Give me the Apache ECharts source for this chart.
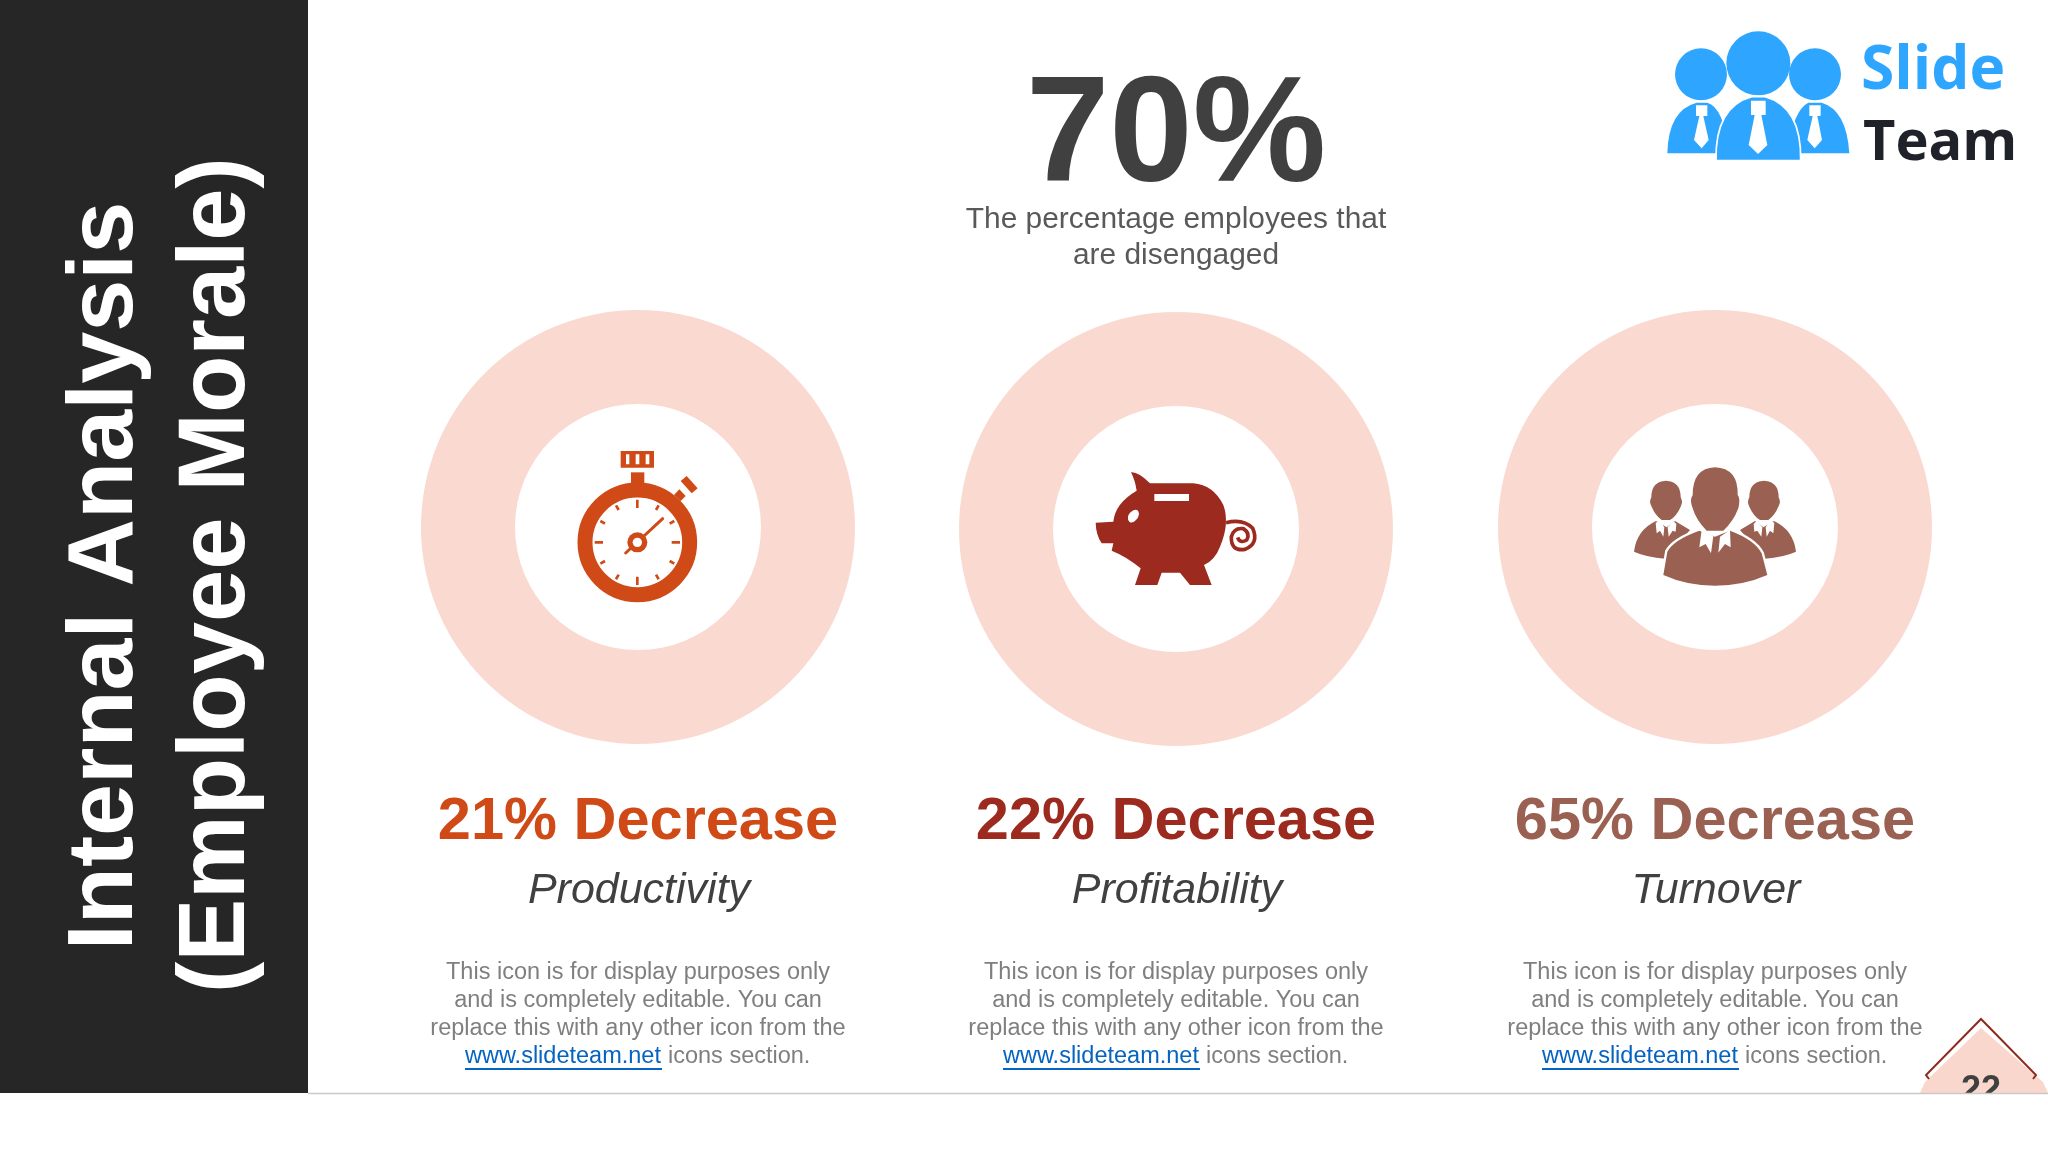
<!DOCTYPE html>
<html>
<head>
<meta charset="utf-8">
<style>
  html, body { margin: 0; padding: 0; background: #fff; }
  #main { width: 2048px; height: 1152px; }
</style>
<script src="https://cdn.jsdelivr.net/npm/echarts@6/dist/echarts.min.js"></script>
</head>
<body>
<div id="main"></div>
<script>
var categories = ['Productivity', 'Profitability', 'Turnover'];
var decreases = [21, 22, 65];
var headlineColors = ['#d04a18', '#9c2a1e', '#9a6152'];
var headlinePercent = 70;
var subtitleLines = ['The percentage employees that', 'are disengaged'];
var titleLines = ['Internal Analysis', '(Employee Morale)'];
var bodyLines = ['This icon is for display purposes only', 'and is completely editable. You can', 'replace this with any other icon from the'];
var pageNumber = '22';

var centersX = [638, 1176, 1715];
var centersY = [527, 529, 527];
var FONT = '"Liberation Sans", Arial, sans-serif';
var LOGO_FONT = '"Open Sans", "Noto Sans", sans-serif';

function txt(text, x, y, font, fill, extra) {
    var el = {
        type: 'text', x: x, y: y, silent: true,
        style: { text: text, font: font, fill: fill, align: 'center', verticalAlign: 'middle' }
    };
    return Object.assign(el, extra || {});
}
// graphic component has no plain path type, so each traced shape gets registered
var shapeCount = 0;
function icon(pathData, ox, oy, fill, extra) {
    var name = 'iconShape' + (shapeCount++);
    echarts.graphic.registerShape(name, echarts.graphic.extendPath(pathData, {}));
    var el = {
        type: name, x: ox, y: oy, scaleX: 1 / 3, scaleY: 1 / 3, silent: true,
        style: { fill: fill }
    };
    if (extra) Object.assign(el.style, extra);
    return el;
}
function circlePath(cx, cy, r) {
    return 'M' + (cx - r) + ' ' + cy + 'A' + r + ' ' + r + ' 0 1 1 ' + (cx + r) + ' ' + cy + 'A' + r + ' ' + r + ' 0 1 1 ' + (cx - r) + ' ' + cy + 'Z';
}
function rectPath(x1, y1, x2, y2) {
    return 'M' + x1 + ' ' + y1 + 'L' + x2 + ' ' + y1 + 'L' + x2 + ' ' + y2 + 'L' + x1 + ' ' + y2 + 'Z';
}

function stopwatch() {
    var c = '#d04a18', ox = 530, oy = 420, out = [];
    var cx = 322, cy = 367;
    out.push(icon(circlePath(cx, cy, 157), ox, oy, 'none', { stroke: c, lineWidth: 45 }));
    out.push(icon(rectPath(272, 93, 372, 143), ox, oy, c));
    out.push(icon(rectPath(288, 103, 298, 133) + rectPath(317, 103, 328, 133) + rectPath(347, 103, 358, 133), ox, oy, '#fff'));
    out.push(icon(rectPath(303, 157, 343, 195), ox, oy, c));
    out.push(icon('M452 183L470 168L503 205L485 220ZM432 225L448 208L467 228L452 243Z', ox, oy, c));
    var d = '';
    for (var i = 0; i < 12; i++) {
        var a = i * Math.PI / 6, s = Math.sin(a), k = Math.cos(a);
        var r1 = i % 3 === 0 ? 103 : 112;
        d += 'M' + (cx + 128 * s) + ' ' + (cy - 128 * k) + 'L' + (cx + r1 * s) + ' ' + (cy - r1 * k);
    }
    // major and minor ticks share one weight, close enough at this size
    out.push(icon(d, ox, oy, 'none', { stroke: c, lineWidth: 8 }));
    out.push(icon('M287 399L398 296', ox, oy, 'none', { stroke: c, lineWidth: 9, lineCap: 'round' }));
    out.push(icon(circlePath(cx, cy, 30), ox, oy, c));
    out.push(icon(circlePath(cx, cy, 14), ox, oy, '#fff'));
    return out;
}

function piggy() {
    var c = '#9c2a1e', ox = 1070, oy = 440;
    return [
        icon('M183 97Q205 95 240 130L370 130Q430 135 460 195Q480 250 450 320Q435 360 402 375L425 435L360 435L330 398L275 398L262 435L195 435L212 385Q170 350 125 332L130 310L95 310Q78 285 77 248L130 245Q135 190 200 152Q195 120 183 97Z', ox, oy, c),
        icon('M178 245Q168 232 180 218Q194 205 204 212Q212 225 198 240Q186 252 178 245Z', ox, oy, '#fff'),
        icon(rectPath(253, 162, 357, 183), ox, oy, '#fff'),
        icon('M468 248Q520 235 548 265Q568 310 525 328Q482 335 484 290Q492 262 520 266Q542 280 530 300Q510 312 503 292', ox, oy, 'none', { stroke: c, lineWidth: 11 })
    ];
}

function people() {
    var c = '#9a6152', ox = 1610, oy = 440;
    var sideHead = 'M168 122Q212 124 212 172Q220 185 212 200Q200 228 180 240L155 240Q135 225 125 200Q116 185 124 172Q124 124 168 122Z';
    var sideBody = 'M138 243Q80 270 72 335Q110 352 165 356L240 270L195 243L170 262Z';
    var sideCollar = 'M137 248L150 243L163 262L160 290L150 272L140 280ZM173 262L190 243L199 252L197 275L188 272L176 290Z';
    var out = [];
    [false, true].forEach(function (mirror) {
        var o = mirror ? { x: ox + 630 / 3, scaleX: -1 / 3 } : {};
        [sideHead, sideBody].forEach(function (p) { out.push(Object.assign(icon(p, ox, oy, c), o)); });
        out.push(Object.assign(icon(sideCollar, ox, oy, '#fff'), o));
    });
    var mainBody = 'M268 272Q190 300 172 335L160 405Q230 437 315 437Q400 437 472 405L455 340Q435 300 360 272L315 290Z';
    out.push(icon(mainBody, ox, oy, c, { stroke: '#fff', lineWidth: 14 }));
    out.push(icon(mainBody, ox, oy, c));
    out.push(icon('M315 82Q385 85 383 165Q392 175 385 205Q370 245 340 272L290 272Q258 240 248 205Q238 180 248 165Q248 85 315 82Z', ox, oy, c));
    out.push(icon('M268 322L275 270L310 288L303 340L287 312ZM325 338L330 290L360 270L362 322L345 312L335 325Z', ox, oy, '#fff'));
    out.push(icon('M315 298L325 340L315 332L307 340Z', ox, oy, c));
    return out;
}

function logo() {
    var c = '#2ea6ff', ox = 1620, oy = 0, out = [];
    out.push(icon(circlePath(243, 223, 78) + circlePath(415, 190, 96) + circlePath(585, 223, 78), ox, oy, c));
    out.push(icon('M142 460Q145 330 230 308L262 308Q310 320 330 460ZM500 460Q520 330 565 308L605 308Q680 330 688 460Z', ox, oy, c));
    out.push(icon('M288 482Q285 320 395 290L435 290Q545 320 542 482Z', ox, oy, c, { stroke: '#fff', lineWidth: 5 }));
    out.push(icon('M228 316L262 316L262 348L250 348L266 420L245 445L222 420L238 348L228 348ZM393 302L437 302L437 345L424 345L442 435L414 462L386 435L404 345L393 345ZM568 316L602 316L602 348L592 348L606 420L584 445L562 420L578 348L568 348Z', ox, oy, '#fff'));
    out.push({ type: 'text', x: 1861, y: 72, silent: true, style: { text: 'Slide', font: 'bold 60.5px ' + LOGO_FONT, fill: c, align: 'left', verticalAlign: 'middle' } });
    out.push({ type: 'text', x: 1863, y: 144, silent: true, style: { text: 'Team', font: 'bold 56px ' + LOGO_FONT, fill: '#1f2329', align: 'left', verticalAlign: 'middle' } });
    return out;
}

var graphics = [];
graphics.push({ type: 'rect', silent: true, shape: { x: 0, y: 0, width: 308, height: 1093 }, style: { fill: '#262626' } });
graphics.push(txt(titleLines[0], 106, 576, 'bold 93.5px ' + FONT, '#fff', { rotation: Math.PI / 2 }));
graphics.push(txt(titleLines[1], 218, 575, 'bold 94px ' + FONT, '#fff', { rotation: Math.PI / 2 }));

graphics.push(txt(headlinePercent + '%', 1176, 140, 'bold 150px ' + FONT, '#404040'));
subtitleLines.forEach(function (line, i) {
    graphics.push(txt(line, 1176, 220 + i * 36, '29.9px ' + FONT, '#595959'));
});

categories.forEach(function (name, i) {
    var x = centersX[i];
    graphics.push(txt(decreases[i] + '% Decrease', x, 823, 'bold 59.5px ' + FONT, headlineColors[i]));
    graphics.push(txt(name, x + 1, 891, 'italic 43px ' + FONT, '#404040'));
    bodyLines.forEach(function (line, j) {
        graphics.push(txt(line, x, 973 + j * 28, '23.5px ' + FONT, '#7f7f7f'));
    });
    // last line mixes link and plain text, so it is two pieces plus a rule
    var linkLeft = x - 173;
    graphics.push({ type: 'text', x: linkLeft, y: 1057, silent: true, style: { text: 'www.slideteam.net', font: '23.5px ' + FONT, fill: '#0563c1', align: 'left', verticalAlign: 'middle' } });
    graphics.push({ type: 'line', silent: true, shape: { x1: linkLeft, y1: 1069, x2: linkLeft + 197, y2: 1069 }, style: { stroke: '#0563c1', lineWidth: 2 } });
    graphics.push({ type: 'text', x: linkLeft + 203, y: 1057, silent: true, style: { text: 'icons section.', font: '23.5px ' + FONT, fill: '#7f7f7f', align: 'left', verticalAlign: 'middle' } });
});

graphics = graphics.concat(stopwatch(), piggy(), people(), logo());

// page marker, its lower part is cut off by the footer strip
graphics.push({ type: 'polygon', silent: true, shape: { points: [[1981, 1028], [2043, 1082], [2048, 1093], [1920, 1093], [1925, 1082]] }, style: { fill: '#f9d7cd' } });
graphics.push({ type: 'polyline', silent: true, shape: { points: [[1929, 1079], [1926, 1075], [1981, 1019], [2036, 1075], [2033, 1079]] }, style: { stroke: '#8e2a1c', lineWidth: 2, fill: 'none' } });
graphics.push(txt(pageNumber, 1981, 1091, 'bold 36px ' + FONT, '#404040'));
graphics.push({ type: 'rect', silent: true, shape: { x: 0, y: 1094, width: 2048, height: 58 }, style: { fill: '#fff' } });
graphics.push({ type: 'line', silent: true, shape: { x1: 308, y1: 1093.5, x2: 2048, y2: 1093.5 }, style: { stroke: '#c9c9c9', lineWidth: 1.5 } });

var myChart = echarts.init(document.getElementById('main'), null, { renderer: 'canvas' });
myChart.setOption({
    animation: false,
    backgroundColor: '#fff',
    series: categories.map(function (name, i) {
        return {
            type: 'pie',
            center: [centersX[i], centersY[i]],
            radius: [123, 217],
            silent: true,
            label: { show: false },
            labelLine: { show: false },
            itemStyle: { color: '#fad9d0' },
            data: [{ name: name, value: decreases[i] }]
        };
    }),
    graphic: { elements: graphics }
});
</script>
</body>
</html>
